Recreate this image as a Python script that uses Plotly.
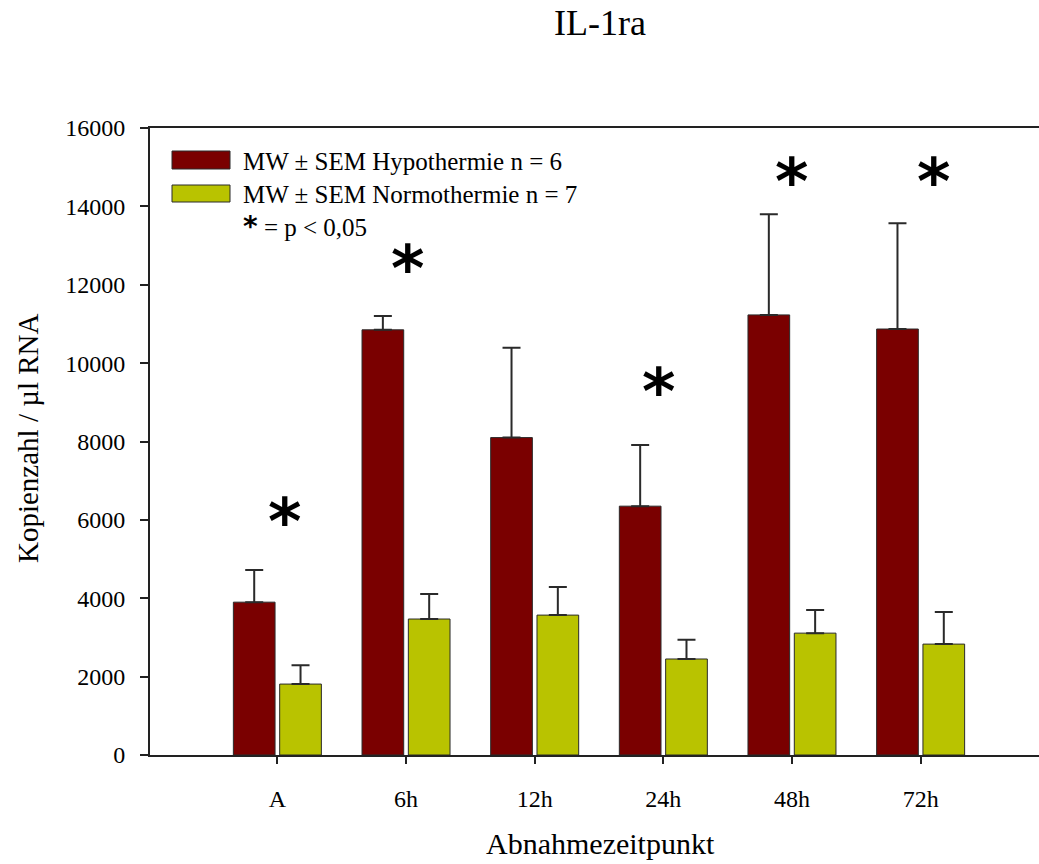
import plotly.graph_objects as go

categories = ["A", "6h", "12h", "24h", "48h", "72h"]
hypo_mean = [3900, 10850, 8100, 6350, 11230, 10870]
hypo_sem = [820, 350, 2290, 1560, 2570, 2700]
normo_mean = [1810, 3470, 3570, 2450, 3110, 2830]
normo_sem = [480, 640, 715, 490, 590, 820]
sig_cats = ["A", "6h", "24h", "48h", "72h"]
sig_y = [6300, 12760, 9620, 14980, 14980]
sig_xshift = [7, 1, -5, 0, 13]

hypo_label = "MW ± SEM Hypothermie n = 6"
normo_label = "MW ± SEM Normothermie n = 7"
sig_label = "<span style='font-family:DejaVu Sans;font-size:28px'><b>*</b></span> = p &lt; 0,05"

W, H = 1039, 864
L, R, T, B = 150, 0, 128, 109
PW, PH = W - L - R, H - T - B

def px(x):
    return (x - L) / PW

def py(y):
    return (H - B - y) / PH

serif = "Liberation Serif"
red = "#7a0000"
green = "#b9c300"
edge = "#2a2a2a"

fig = go.Figure()
fig.add_trace(go.Bar(
    x=categories, y=hypo_mean, name=hypo_label,
    marker=dict(color=red, line=dict(color=edge, width=1)),
    error_y=dict(type="data", array=hypo_sem, arrayminus=[0]*len(hypo_sem),
                 symmetric=False, color="#2a2a2a", thickness=2, width=9),
    showlegend=False,
))
fig.add_trace(go.Bar(
    x=categories, y=normo_mean, name=normo_label,
    marker=dict(color=green, line=dict(color=edge, width=1)),
    error_y=dict(type="data", array=normo_sem, arrayminus=[0]*len(normo_sem),
                 symmetric=False, color="#2a2a2a", thickness=2, width=9),
    showlegend=False,
))

for c, yv, xs in zip(sig_cats, sig_y, sig_xshift):
    fig.add_annotation(x=c, y=yv, text="<b>*</b>", showarrow=False,
                       xshift=xs, yshift=-14, yanchor="middle", xanchor="center",
                       font=dict(family="DejaVu Sans", size=64, color="black"))

# manual legend
shapes = []
for (y0, y1), col in [((151, 169), red), ((185, 202), green)]:
    shapes.append(dict(type="rect", xref="paper", yref="paper",
                       x0=px(172), x1=px(230), y0=py(y1), y1=py(y0),
                       fillcolor=col, line=dict(color=edge, width=1)))
fig.update_layout(shapes=shapes)
for ty, txt in [(161, hypo_label), (194, normo_label), (226, sig_label)]:
    fig.add_annotation(xref="paper", yref="paper", x=px(241), y=py(ty),
                       text=txt, showarrow=False, xanchor="left", yanchor="middle",
                       font=dict(family=serif, size=25, color="black"))

# axis titles
fig.add_annotation(xref="paper", yref="paper", x=px(28), y=py(438),
                   text="Kopienzahl / µl RNA", textangle=-90, showarrow=False,
                   xanchor="center", yanchor="middle",
                   font=dict(family=serif, size=29, color="black"))
fig.add_annotation(xref="paper", yref="paper", x=px(600), y=py(843),
                   text="Abnahmezeitpunkt", showarrow=False,
                   xanchor="center", yanchor="middle",
                   font=dict(family=serif, size=30, color="black"))

fig.update_layout(
    width=W, height=H,
    margin=dict(l=L, r=R, t=T, b=B, pad=0),
    paper_bgcolor="white", plot_bgcolor="white",
    title=dict(text="IL-1ra", x=600 / W, xref="container", xanchor="center",
               y=1 - 22 / H, yref="container", yanchor="middle",
               font=dict(family=serif, size=36, color="black")),
    barmode="group", bargap=0.28, bargroupgap=0.1,
    font=dict(family=serif, color="black"),
)
fig.update_xaxes(
    type="category", range=[-0.99, 5.92],
    showline=True, linecolor="#222222", linewidth=2, mirror=True,
    ticks="outside", ticklen=7, tickwidth=1.5, tickcolor="#222222",
    ticklabelstandoff=14,
    tickfont=dict(family=serif, size=24, color="black"),
    showgrid=False, zeroline=False,
)
fig.update_yaxes(
    range=[0, 16000], tickvals=[0, 2000, 4000, 6000, 8000, 10000, 12000, 14000, 16000],
    ticktext=["0", "2000", "4000", "6000", "8000", "10000", "12000", "14000", "16000"],
    showline=True, linecolor="#222222", linewidth=2,
    ticks="outside", ticklen=8, tickwidth=1.5, tickcolor="#222222",
    ticklabelstandoff=10,
    tickfont=dict(family=serif, size=24, color="black"),
    showgrid=False, zeroline=False,
)

fig.write_html("out.html")
